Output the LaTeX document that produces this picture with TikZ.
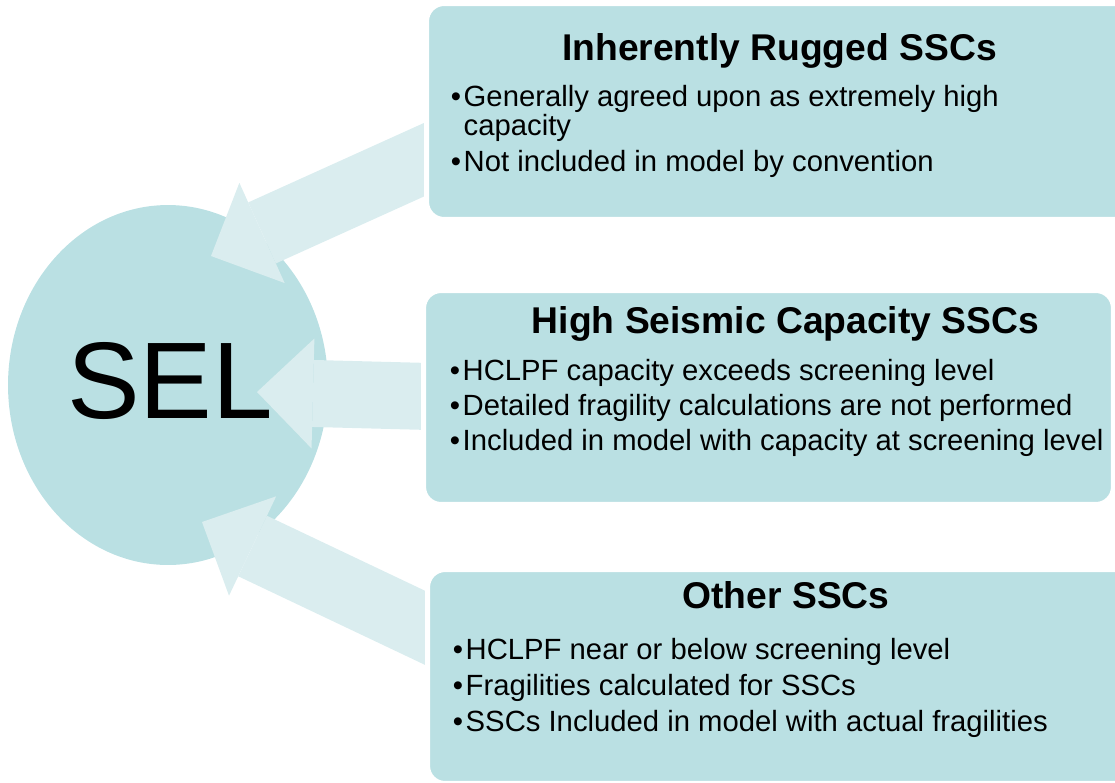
\documentclass[tikz,border=0pt]{standalone}
\usepackage{fontspec}
\setmainfont{Liberation Sans}
\usetikzlibrary{positioning}
\usetikzlibrary{shapes.geometric, arrows.meta, backgrounds}

\definecolor{tealfill}{HTML}{BAE0E3}
\definecolor{tealarrow}{HTML}{DAEDEF}

\begin{document}
\begin{tikzpicture}[
	x=0.02cm, y=-0.02cm,
	hub/.style={
		ellipse,
		minimum width=6.4cm,
		minimum height=7.2cm,
		inner sep=0pt,
		fill=tealfill
	},
	panel/.style={
		rectangle,
		rounded corners=0.35cm,
		fill=tealfill,
		draw=white,
		line width=0.1cm,
		inner sep=0pt
	},
	heading/.style={
		anchor=base,
		inner sep=0pt,
		font=\fontsize{21.2}{21.2}\selectfont\bfseries
	},
	item/.style={
		anchor=base west,
		inner sep=0pt,
		font=\fontsize{16.65}{16.65}\selectfont
	},
	flow/.style={
		draw=tealarrow,
		line width=1.34cm,
		-{Triangle[length=1.12cm, width=2.2cm, line width=0pt]}
	}
	]
	\useasboundingbox (0,0) rectangle (1115,782);

	% Boxes on the right
	\node[panel, minimum width=14.27cm, minimum height=4.32cm] (rugged) at (783.25,111.5) {};
	\node[panel, minimum width=13.8cm, minimum height=4.28cm] (seismic) at (768.5,397.5) {};
	\node[panel, minimum width=14.25cm, minimum height=4.28cm] (other) at (783.75,676.5) {};

	% Ellipse and the three arrows go underneath
	\begin{scope}[on background layer]
		\node[hub] (sel) at (168,385) {};
		\coordinate (in1) at ([shift={(43,-129)}]sel.center);
		\coordinate (in2) at ([shift={(89,7)}]sel.center);
		\coordinate (in3) at ([shift={(34,137)}]sel.center);

		\draw[flow] ([shift={(43.5,28.5)}]rugged.west) -- (in1);
		\draw[flow] ([shift={(46.5,0)}]seismic.west) -- (in2);
		\draw[flow] ([shift={(42.5,-28.5)}]other.west) -- (in3);
	\end{scope}

	\node[anchor=base, inner sep=0pt, font=\fontsize{62}{62}\selectfont] (seltext) at ([shift={(2,33)}]sel.center) {SEL};

	% Top box text
	\node[heading] (ruggedtitle) at (779.5,60) {Inherently Rugged SSCs};
	\node[item] (rugged1) at (450.5,106) {•\kern1.5pt Generally agreed upon as extremely high};
	\node[item, below=0.58cm of rugged1.base west, anchor=base west] (rugged1b) {\phantom{•}\kern1.5pt capacity};
	\node[item, below=0.74cm of rugged1b.base west, anchor=base west] (rugged2) {•\kern1.5pt Not included in model by convention};

	% Middle box text
	\node[heading] (seismictitle) at (785.5,333) {High Seismic Capacity SSCs};
	\node[item] (seismic1) at (449.5,380) {•\kern1.5pt HCLPF capacity exceeds screening level};
	\node[item, below=0.71cm of seismic1.base west, anchor=base west] (seismic2) {•\kern1.5pt Detailed fragility calculations are not performed};
	\node[item, below=0.71cm of seismic2.base west, anchor=base west] (seismic3) {•\kern1.5pt Included in model with capacity at screening level};

	% Bottom box text
	\node[heading] (othertitle) at (786,608) {Other SSCs};
	\node[item] (other1) at (452.5,659) {•\kern1.5pt HCLPF near or below screening level};
	\node[item, below=0.72cm of other1.base west, anchor=base west] (other2) {•\kern1.5pt Fragilities calculated for SSCs};
	\node[item, below=0.72cm of other2.base west, anchor=base west] (other3) {•\kern1.5pt SSCs Included in model with actual fragilities};

\end{tikzpicture}
\end{document}
